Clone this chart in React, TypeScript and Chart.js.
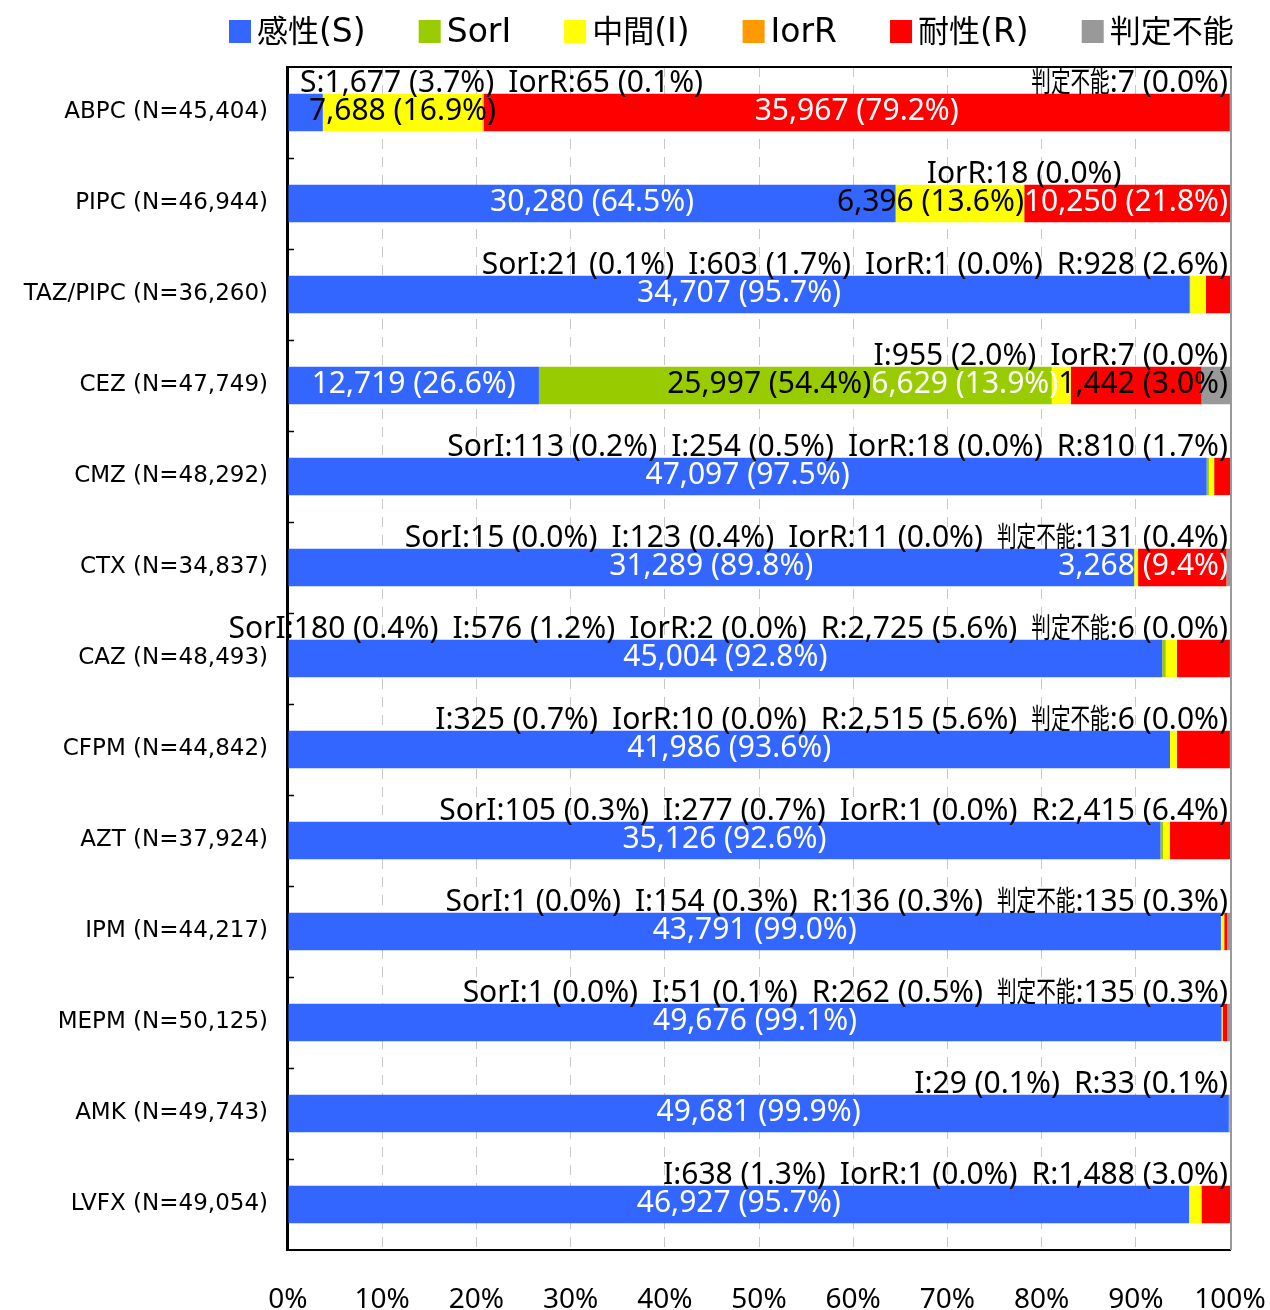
import React, { useEffect, useRef } from "react";
import { Chart, registerables } from "chart.js";

Chart.register(...registerables);

// ---------- data ----------
const categories = ["ABPC", "PIPC", "TAZ/PIPC", "CEZ", "CMZ", "CTX", "CAZ", "CFPM", "AZT", "IPM", "MEPM", "AMK", "LVFX"];
const totals = [45404, 46944, 36260, 47749, 48292, 34837, 48493, 44842, 37924, 44217, 50125, 49743, 49054];

const seriesNames = ["感性(S)", "SorI", "中間(I)", "IorR", "耐性(R)", "判定不能"];
const seriesShort = ["S", "SorI", "I", "IorR", "R", "判定不能"];
const seriesColors = ["#3366FF", "#99CC00", "#FFFF00", "#FF9900", "#FF0000", "#999999"];
const insideTextColors = ["#FFFFFF", "#000000", "#000000", "#000000", "#FFFFFF", "#000000"];

const countS = [1677, 30280, 34707, 12719, 47097, 31289, 45004, 41986, 35126, 43791, 49676, 49681, 46927];
const countSorI = [0, 0, 21, 25997, 113, 15, 180, 0, 105, 1, 1, 0, 0];
const countI = [7688, 6396, 603, 955, 254, 123, 576, 325, 277, 154, 51, 29, 638];
const countIorR = [65, 18, 1, 7, 18, 11, 2, 10, 1, 0, 0, 0, 1];
const countR = [35967, 10250, 928, 6629, 810, 3268, 2725, 2515, 2415, 136, 262, 33, 1488];
const countND = [7, 0, 0, 1442, 0, 131, 6, 6, 0, 135, 135, 0, 0];

const seriesCounts = [countS, countSorI, countI, countIorR, countR, countND];

const xTickValues = [0, 10, 20, 30, 40, 50, 60, 70, 80, 90, 100];
const xTickLabels = ["0%", "10%", "20%", "30%", "40%", "50%", "60%", "70%", "80%", "90%", "100%"];

// labels of segments at or above this share are written inside the bar
const insideThreshold = 7;
const forcedInside = [{ category: "CEZ", series: "判定不能" }];

// ---------- text helpers ----------
const LABEL_LATIN = "30px 'Noto Sans'";
const LABEL_CJK = "28px 'Noto Sans CJK JP'";
const LABEL_CJK_SCALE = 0.7;
const LEGEND_LATIN = "33px 'DejaVu Sans'";
const LEGEND_CJK = "31px 'Noto Sans CJK JP'";

const W = 1270;
const H = 1310;

const fmt = (v: number) => v.toLocaleString("en-US");

function isCJK(ch: string) {
  return /[\u2E80-\u9FFF\uF900-\uFAFF\uFF00-\uFFEF]/.test(ch);
}

function runsOf(text: string) {
  const runs: { t: string; cjk: boolean }[] = [];
  for (const ch of text) {
    const c = isCJK(ch);
    if (runs.length && runs[runs.length - 1].cjk === c) runs[runs.length - 1].t += ch;
    else runs.push({ t: ch, cjk: c });
  }
  return runs;
}

function measureMixed(ctx: CanvasRenderingContext2D, text: string, latin: string, cjk: string, scale: number) {
  let w = 0;
  for (const r of runsOf(text)) {
    ctx.font = r.cjk ? cjk : latin;
    w += ctx.measureText(r.t).width * (r.cjk ? scale : 1);
  }
  return w;
}

function drawMixed(ctx: CanvasRenderingContext2D, text: string, x: number, y: number, latin: string, cjk: string, scale: number) {
  for (const r of runsOf(text)) {
    if (r.cjk) {
      ctx.font = cjk;
      const w = ctx.measureText(r.t).width;
      ctx.save();
      ctx.translate(x, y);
      ctx.scale(scale, 1);
      ctx.fillText(r.t, 0, 0);
      ctx.restore();
      x += w * scale;
    } else {
      ctx.font = latin;
      ctx.fillText(r.t, x, y);
      x += ctx.measureText(r.t).width;
    }
  }
}

type Item = { text: string; color: string; center: number; w: number; left: number };

function layoutRow(items: Item[], gap: number, leftBound: number, rightBound: number) {
  let prevEnd = -Infinity;
  for (const it of items) {
    const l = Math.max(it.center - it.w / 2, prevEnd + gap, leftBound);
    it.left = l;
    prevEnd = l + it.w;
  }
  let nextStart = Infinity;
  for (let i = items.length - 1; i >= 0; i--) {
    const it = items[i];
    const r = Math.min(it.left + it.w, rightBound, nextStart - gap);
    it.left = r - it.w;
    nextStart = it.left;
  }
}

// ---------- plugins ----------
const framePlugin = {
  id: "frame",
  afterDatasetsDraw(chart: any) {
    const { ctx, chartArea: a } = chart;
    const n = categories.length;
    const band = (a.bottom - a.top) / n;
    ctx.save();
    ctx.strokeStyle = "#999999";
    ctx.lineWidth = 2;
    ctx.beginPath();
    ctx.moveTo(a.right + 1, a.top);
    ctx.lineTo(a.right + 1, a.bottom);
    ctx.stroke();
    ctx.strokeStyle = "#000000";
    ctx.beginPath();
    ctx.moveTo(a.left - 2, a.top);
    ctx.lineTo(a.right + 2, a.top);
    ctx.stroke();
    ctx.beginPath();
    ctx.moveTo(a.left - 1, a.top);
    ctx.lineTo(a.left - 1, a.bottom + 1);
    ctx.stroke();
    ctx.lineWidth = 1.5;
    for (let k = 1; k < n; k++) {
      const y = Math.round(a.top + k * band) + 0.5;
      ctx.beginPath();
      ctx.moveTo(a.left, y);
      ctx.lineTo(a.left + 6, y);
      ctx.stroke();
    }
    ctx.restore();
  },
};

const labelPlugin = {
  id: "segLabels",
  afterDatasetsDraw(chart: any) {
    const { ctx, chartArea: a } = chart;
    const leftBound = a.left + 12;
    const rightBound = a.right - 2;
    ctx.save();
    ctx.textAlign = "left";
    ctx.textBaseline = "alphabetic";
    categories.forEach((cat, row) => {
      const inside: Item[] = [];
      const top: Item[] = [];
      const yc = chart.getDatasetMeta(0).data[row].getProps(["y"], true).y;
      seriesCounts.forEach((counts, s) => {
        const v = counts[row];
        if (!v) return;
        const el = chart.getDatasetMeta(s).data[row];
        const { x, base } = el.getProps(["x", "base"], true);
        const pctNum = (v / totals[row]) * 100;
        const pct = pctNum.toFixed(1);
        const forced = forcedInside.some((f) => f.category === cat && f.series === seriesShort[s]);
        const isInside = pctNum >= insideThreshold || forced;
        const text = isInside ? `${fmt(v)} (${pct}%)` : `${seriesShort[s]}:${fmt(v)} (${pct}%)`;
        const w = measureMixed(ctx, text, LABEL_LATIN, LABEL_CJK, LABEL_CJK_SCALE);
        const item: Item = { text, color: isInside ? insideTextColors[s] : "#000000", center: (x + base) / 2, w, left: 0 };
        (isInside ? inside : top).push(item);
      });
      layoutRow(inside, 0, leftBound, rightBound);
      layoutRow(top, 14, leftBound, rightBound);
      for (const it of inside) {
        ctx.fillStyle = it.color;
        drawMixed(ctx, it.text, it.left, yc + 7, LABEL_LATIN, LABEL_CJK, LABEL_CJK_SCALE);
      }
      for (const it of top) {
        ctx.fillStyle = it.color;
        drawMixed(ctx, it.text, it.left, yc - 21, LABEL_LATIN, LABEL_CJK, LABEL_CJK_SCALE);
      }
    });
    ctx.restore();
  },
};

const legendPlugin = {
  id: "customLegend",
  afterDraw(chart: any) {
    const ctx = chart.ctx;
    ctx.save();
    ctx.textAlign = "left";
    ctx.textBaseline = "alphabetic";
    let x = 229;
    seriesNames.forEach((name, i) => {
      ctx.fillStyle = seriesColors[i];
      ctx.fillRect(x, 20, 22, 23);
      ctx.fillStyle = "#000000";
      const tx = x + 28;
      drawMixed(ctx, name, tx, 42, LEGEND_LATIN, LEGEND_CJK, 1);
      x = tx + measureMixed(ctx, name, LEGEND_LATIN, LEGEND_CJK, 1) + 53;
    });
    ctx.restore();
  },
};

export default function App() {
  const canvasRef = useRef<HTMLCanvasElement | null>(null);

  useEffect(() => {
    if (!canvasRef.current) return;
    const chart = new Chart(canvasRef.current, {
      type: "bar",
      data: {
        labels: categories.map((c, i) => `${c} (N=${fmt(totals[i])})`),
        datasets: seriesCounts.map((counts, s) => ({
          label: seriesNames[s],
          data: counts.map((v, i) => (v / totals[i]) * 100),
          backgroundColor: seriesColors[s],
          borderWidth: 0,
          barPercentage: 0.41,
          categoryPercentage: 1,
        })),
      },
      options: {
        indexAxis: "y",
        responsive: false,
        devicePixelRatio: 1,
        animation: false,
        layout: { padding: { top: 67, right: 40, left: 0, bottom: 0 } },
        plugins: { legend: { display: false }, tooltip: { enabled: false } },
        scales: {
          x: {
            stacked: true,
            min: 0,
            max: 100,
            afterBuildTicks: (scale: any) => {
              scale.ticks = xTickValues.map((v) => ({ value: v }));
            },
            afterFit: (scale: any) => {
              scale.height = 60;
              scale.paddingLeft = 0;
              scale.paddingRight = 0;
            },
            ticks: {
              callback: (_v: any, i: number) => xTickLabels[i],
              font: { family: "'Noto Sans'", size: 28, lineHeight: 1 },
              color: "#000000",
              padding: 36,
              maxRotation: 0,
              autoSkip: false,
            },
            grid: { color: "#c8c8c8", lineWidth: 1, drawTicks: false },
            border: { display: true, color: "#000000", width: 2, dash: [10, 8] },
          },
          y: {
            stacked: true,
            grid: { display: false, drawTicks: false },
            border: { display: true, color: "#000000", width: 2 },
            ticks: {
              font: { family: "'DejaVu Sans'", size: 23 },
              color: "#000000",
              padding: 20,
              autoSkip: false,
            },
            afterFit: (scale: any) => {
              scale.width = 288;
            },
          },
        },
      },
      plugins: [framePlugin, labelPlugin, legendPlugin],
    } as any);
    return () => chart.destroy();
  }, []);

  return (
    <div style={{ position: "absolute", left: 0, top: 0, width: W, height: H, background: "#ffffff", overflow: "hidden" }}>
      <canvas ref={canvasRef} width={W} height={H} style={{ display: "block", width: W, height: H }} />
    </div>
  );
}
